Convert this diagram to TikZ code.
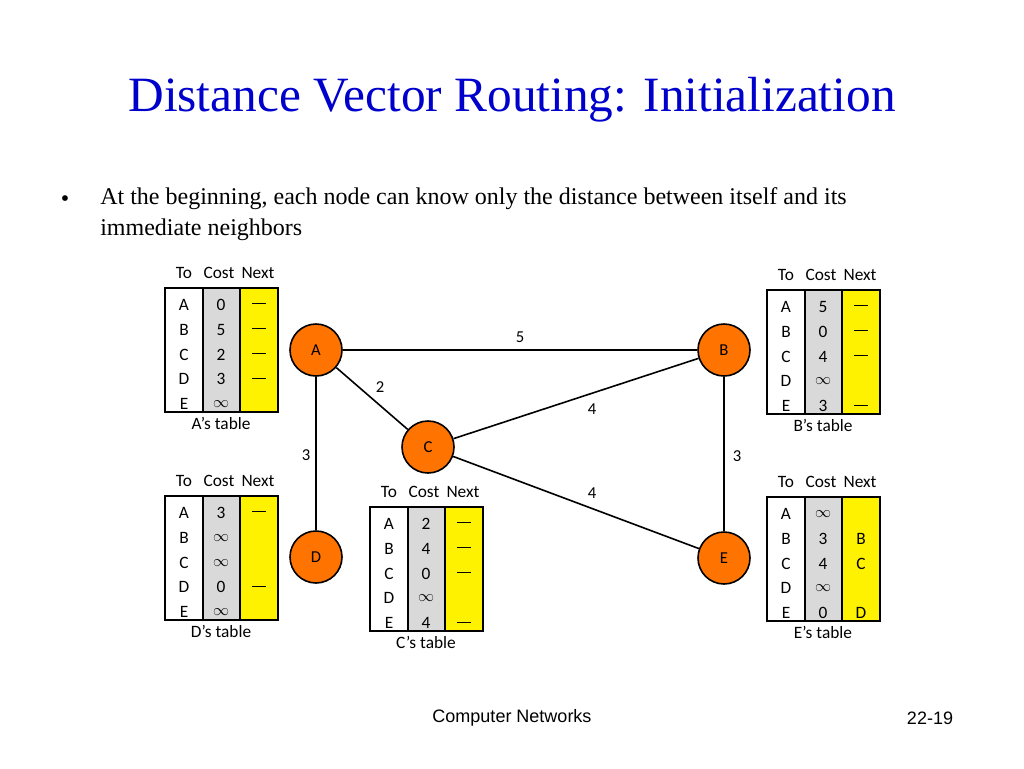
\documentclass[tikz,border=0pt]{standalone}
\usepackage{fontspec}
\setmainfont{Liberation Serif}
\newfontfamily\tf{Carlito}
\newfontfamily\ff{Liberation Sans}
\begin{document}
\begin{tikzpicture}[x=0.75pt,y=-0.75pt,
  rnode/.style={circle,draw,line width=1.2pt,fill=orange!90!red,minimum size=39pt,inner sep=0pt,font=\tf\fontsize{12.5}{14}\selectfont},
  lnk/.style={line width=1.2pt},
  lab/.style={font=\tf\fontsize{12.5}{14}\selectfont},
  cell/.style={font=\tf\fontsize{13}{15}\selectfont,inner sep=0pt}]
\useasboundingbox (0,0) rectangle (1024,768);
\fill[white] (0,0) rectangle (1024,768);
\node[text=blue!80!black,font=\fontsize{37}{42}\selectfont] (title) at (512,100) {Distance Vector Routing: Initialization};
\node[font=\fontsize{18}{22}\selectfont] (bul) at (65,201) {•};
\node[anchor=north west,align=left,font=\fontsize{18}{23.5}\selectfont,inner sep=0pt] (txt) at (100,187) {At the beginning, each node can know only the distance between itself and its\\immediate neighbors};
\node[font=\ff\fontsize{13.5}{15}\selectfont] (foot) at (512,718) {Computer Networks};
\node[font=\ff\fontsize{13.5}{15}\selectfont] (pg) at (930,718) {22-19};
\newcommand{\rtable}[6]{%
  \fill[gray!30] (#2+38,#3) rectangle (#2+75,#3+124);
  \fill[yellow] (#2+75,#3) rectangle (#2+113,#3+124);
  \draw[line width=0.9pt] (#2,#3) rectangle (#2+113,#3+124);
  \draw[line width=0.9pt] (#2+38,#3)--(#2+38,#3+124) (#2+75,#3)--(#2+75,#3+124);
  \node[cell] (#1h1) at (#2+19,#3-15) {To};
  \node[cell] (#1h2) at (#2+54,#3-15) {Cost};
  \node[cell] (#1h3) at (#2+93,#3-15) {Next};
  \node[cell] (#1cap) at (#2+56,#3+135) {#4};
  \foreach \d [count=\i] in {A,B,C,D,E} \node[cell] at (#2+19,#3+17+24.8*\i-24.8) {\d};
  \foreach \c [count=\i] in {#5} \node[cell] at (#2+56,#3+17+24.8*\i-24.8) {\c};
  \foreach \n [count=\i] in {#6} \node[cell] at (#2+94,#3+17+24.8*\i-24.8) {\n};
}
\def\dd{\rule[0.3ex]{11pt}{0.6pt}}
\def\oo{$\infty$}
\rtable{ta}{165}{288}{A’s table}{0,5,2,3,\oo}{\dd,\dd,\dd,\dd,{}}
\rtable{tb}{767}{290}{B’s table}{5,0,4,\oo,3}{\dd,\dd,\dd,{},\dd}
\rtable{td}{165}{496}{D’s table}{3,\oo,\oo,0,\oo}{\dd,{},{},\dd,{}}
\rtable{tc}{370}{507}{C’s table}{2,4,0,\oo,4}{\dd,\dd,\dd,{},\dd}
\rtable{te}{767}{497}{E’s table}{\oo,3,4,\oo,0}{{},B,C,{},D}
\node[rnode] (A) at (316,350) {A};
\node[rnode] (B) at (724,350) {B};
\node[rnode] (C) at (428,447) {C};
\node[rnode] (D) at (316,557) {D};
\node[rnode] (E) at (724,558) {E};
\draw[lnk] (A)--(B); \draw[lnk] (A)--(C); \draw[lnk] (A)--(D);
\draw[lnk] (C)--(B); \draw[lnk] (C)--(E); \draw[lnk] (B)--(E);
\node[lab] at (520,337) {5};
\node[lab] at (380,387) {2};
\node[lab] at (592,409) {4};
\node[lab] at (306,455) {3};
\node[lab] at (737,456) {3};
\node[lab] at (592,493) {4};
\end{tikzpicture}
\end{document}
